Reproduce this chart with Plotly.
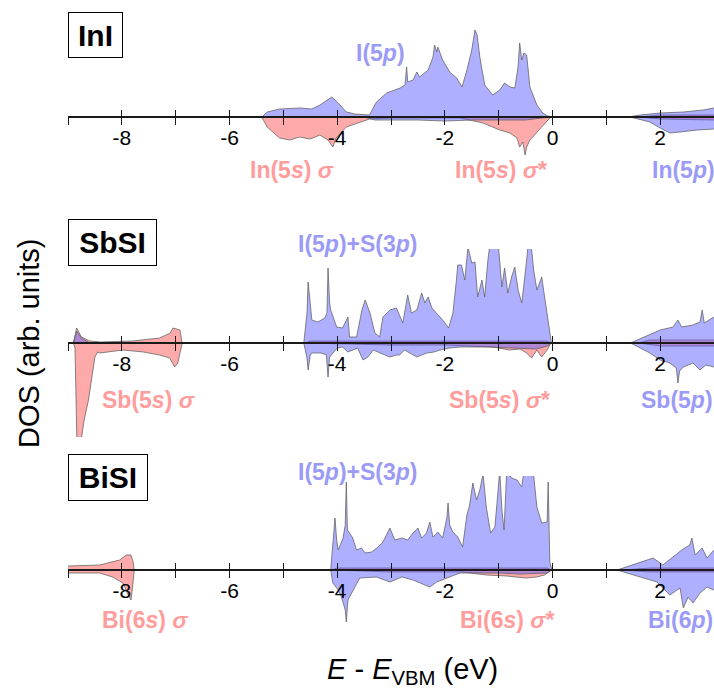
import plotly.graph_objects as go

# ---------------- data: energy (eV, relative to VBM) and DOS (arb. units) ----------------
TICK_VALUES = [-8, -6, -4, -2, 0, 2]
TICK_LABELS = ["-8", "-6", "-4", "-2", "0", "2"]
MINOR_TICK_VALUES = [-9, -7, -5, -3, -1, 1, 3]
E_RANGE = [-9, 3]

# ---- InI ----
INI_ANION_P_E = [-5.4, -5.3, -5.07, -4.69, -4.47, -4.32, -4.1, -3.98, -3.83, -3.67,
                 -3.4, -3.27, -3.08, -2.83, -2.74, -2.71, -2.69, -2.59, -2.52, -2.47,
                 -2.31, -2.22, -2.19, -2.15, -2.13, -2.04, -1.91, -1.78, -1.68, -1.59,
                 -1.5, -1.44, -1.4, -1.35, -1.26, -1.11, -0.98, -0.89, -0.79, -0.7,
                 -0.64, -0.61, -0.57, -0.53, -0.48, -0.42, -0.29, -0.18, -0.09, 0.0,
                 1.4, 1.63, 2.0, 2.43, 2.8, 3.0]
INI_ANION_P_DOS = [0, 5, 8, 9, 8, 12, 20, 14, 5, 3,
                   2, 15, 24, 29, 32, 50, 35, 37, 45, 40,
                   47, 60, 72, 65, 70, 57, 45, 39, 30, 47,
                   67, 87, 82, 60, 32, 22, 27, 34, 30, 29,
                   50, 74, 57, 64, 62, 30, 12, 4, 1, 0,
                   0, 2, 4, 5, 7, 9]
INI_CATION_S_E = [-5.4, -5.3, -5.07, -4.88, -4.7, -4.5, -4.32, -4.17, -4.08, -4.02,
                  -3.83, -3.58, -3.4, -3.0, -2.0, -1.72, -1.29, -0.98, -0.79, -0.66,
                  -0.61, -0.55, -0.51, -0.48, -0.42, -0.29, -0.18, -0.05, 0.0,
                  1.6, 2.0, 3.0]
INI_CATION_S_DOS = [0, -10, -21, -23, -20, -22, -18, -23, -30, -21,
                    -10, -5, -2, -1, -1, -1, -6, -13, -16, -21,
                    -30, -25, -38, -30, -23, -15, -8, -1, 0,
                    0, -2, -3]
INI_CATION_P_E = [-3.5, -3.3, -2.5, -2.0, -1.5, -1.0, -0.5, -0.2, 0.0,
                  1.44, 1.81, 2.0, 2.18, 2.37, 2.69, 3.0]
INI_CATION_P_DOS = [0, -3, -3, -4, -3, -3, -3, -1, 0,
                    0, -5, -11, -16, -15, -13, -12]
INI_ANION_S_E = [1.6, 2.0, 3.0]
INI_ANION_S_DOS = [0, 2, 2]

# ---- SbSI ----
SBSI_ANION_P_E = [-8.9, -8.84, -8.75, -8.6,
                  -4.62, -4.56, -4.54, -4.5, -4.47, -4.36, -4.23, -4.19, -4.17, -4.14,
                  -4.12, -4.01, -3.9, -3.8, -3.77, -3.64, -3.54, -3.48, -3.39, -3.3,
                  -3.21, -3.15, -3.02, -2.9, -2.84, -2.78, -2.69, -2.62, -2.52, -2.43,
                  -2.37, -2.31, -2.24, -2.15, -2.04, -1.93, -1.85, -1.79, -1.76, -1.69,
                  -1.63, -1.57, -1.5, -1.44, -1.39, -1.31, -1.26, -1.2, -1.16, -1.01,
                  -0.94, -0.89, -0.83, -0.76, -0.7, -0.64, -0.57, -0.48, -0.45, -0.4,
                  -0.35, -0.29, -0.2, -0.16, -0.08, -0.02,
                  1.45, 1.81, 2.0, 2.24, 2.33, 2.4, 2.61, 2.74, 2.78, 2.82, 3.0]
SBSI_ANION_P_DOS = [0, 12, 5, 0,
                    0, 30, 61, 35, 23, 21, 25, 30, 75, 40,
                    33, 16, 15, 26, 6, 6, 33, 43, 30, 10,
                    6, 26, 33, 35, 28, 20, 48, 30, 33, 50,
                    40, 46, 35, 30, 23, 15, 30, 60, 78, 78,
                    63, 96, 80, 81, 46, 63, 46, 83, 100, 100,
                    56, 75, 50, 66, 76, 53, 40, 83, 100, 100,
                    73, 53, 66, 51, 23, 0,
                    0, 8, 13, 16, 23, 16, 18, 21, 33, 20, 26]
SBSI_CATION_S_E = [-8.9, -8.87, -8.83, -8.8, -8.75, -8.7, -8.62, -8.56, -8.5, -8.45,
                   -8.41, -7.98, -7.6, -7.3, -7.11, -7.02, -6.96, -6.9, -6.88,
                   -4.6, -3.0, -2.0, -1.5, -1.11, -0.8, -0.6, -0.48, -0.39, -0.29,
                   -0.2, -0.1, -0.03,
                   1.6, 2.0, 2.5, 3.0]
SBSI_CATION_S_DOS = [0, -5, -110, -110, -95, -77, -57, -34, -14, -9,
                     -10, -7, -9, -12, -15, -24, -20, -5, 0,
                     0, -2, -2, -3, -4, -7, -6, -10, -15, -7,
                     -14, -7, 0,
                     0, -3, -3, -3]
SBSI_ANION_S_E = [-8.9, -8.84, -8.75, -8.6, -8.4, -7.8, -7.3, -7.1, -7.05, -6.98,
                  -6.92, -6.88, -4.6, -4.5, -0.1, -0.03, 1.6, 1.8, 3.0]
SBSI_ANION_S_DOS = [0, 15, 6, 2, 1, 2, 5, 10, 15, 14,
                    13, 0, 0, 2, 2, 0, 0, 3, 3]
SBSI_CATION_P_E = [-4.62, -4.56, -4.54, -4.5, -4.47, -4.3, -4.2, -4.17, -4.14, -4.0,
                   -3.9, -3.8, -3.62, -3.52, -3.43, -3.33, -3.2, -3.02, -2.9, -2.84,
                   -2.75, -2.65, -2.52, -2.43, -2.33, -2.2, -2.09, -1.91, -1.7, -1.2,
                   -0.55, -0.3, -0.1, -0.02,
                   1.45, 1.81, 2.0, 2.18, 2.3, 2.33, 2.36, 2.43, 2.61, 2.74, 2.85, 3.0]
SBSI_CATION_P_DOS = [0, -15, -27, -12, -10, -10, -12, -34, -14, -5,
                     -4, -9, -5, -17, -14, -7, -10, -14, -12, -12,
                     -7, -10, -14, -12, -10, -9, -7, -5, -4, -4,
                     -5, -6, -3, 0,
                     0, -10, -17, -20, -25, -40, -28, -24, -20, -27, -22, -24]

# ---- BiSI ----
BISI_ANION_P_E = [-4.12, -4.06, -4.04, -4.01, -3.98, -3.89, -3.85, -3.83, -3.81, -3.71,
                  -3.64, -3.55, -3.48, -3.36, -3.24, -3.15, -3.02, -2.93, -2.8, -2.69,
                  -2.59, -2.5, -2.43, -2.34, -2.28, -2.22, -2.13, -2.04, -1.96, -1.94,
                  -1.91, -1.85, -1.76, -1.67, -1.59, -1.54, -1.48, -1.41, -1.35, -1.29,
                  -1.23, -1.15, -1.07, -1.01, -0.98, -0.94, -0.9, -0.85, -0.76, -0.66,
                  -0.57, -0.53, -0.36, -0.29, -0.2, -0.1, -0.08, -0.05, -0.01,
                  1.2, 1.63, 1.87, 2.05, 2.27, 2.4, 2.55, 2.59, 2.65, 2.78, 2.87, 3.0]
BISI_ANION_P_DOS = [0, 40, 52, 30, 20, 32, 45, 88, 40, 32,
                    20, 22, 17, 18, 23, 28, 42, 30, 32, 30,
                    37, 42, 32, 37, 48, 33, 38, 32, 53, 67,
                    45, 38, 33, 23, 55, 65, 87, 70, 80, 96,
                    63, 37, 43, 80, 100, 60, 40, 100, 92, 90,
                    83, 100, 100, 63, 47, 48, 88, 8, 0,
                    0, 8, 12, 5, 15, 20, 25, 32, 15, 22, 12, 20]
BISI_CATION_S_E = [-9.3, -9.0, -8.41, -8.17, -7.98, -7.86, -7.83, -7.8, -7.77,
                   -4.1, -3.0, -2.0, -1.67, -1.23, -0.85, -0.5, -0.29, -0.15, -0.02,
                   1.3, 1.8, 3.0]
BISI_CATION_S_DOS = [-3, -3, -3, -7, -13, -27, -30, -17, 0,
                     0, -2, -2, -2, -5, -6, -8, -7, -5, 0,
                     0, -2, -2]
BISI_ANION_S_E = [-9.3, -9.0, -8.41, -8.04, -7.92, -7.83, -7.79, -7.77,
                  -4.1, -4.0, -0.1, -0.02, 1.3, 1.8, 3.0]
BISI_ANION_S_DOS = [4, 4, 5, 10, 15, 15, 8, 0,
                    0, 2, 2, 0, 0, 2, 2]
BISI_CATION_P_E = [-4.12, -4.08, -3.98, -3.92, -3.85, -3.83, -3.8, -3.73, -3.58, -3.27,
                   -3.02, -2.8, -2.59, -2.28, -2.15, -1.96, -1.72, -1.48, -0.98, -0.6,
                   -0.1, -0.01,
                   1.2, 1.63, 1.94, 2.18, 2.37, 2.43, 2.52, 2.61, 2.74, 2.87, 3.0]
BISI_CATION_P_DOS = [0, -13, -20, -27, -40, -52, -30, -23, -8, -7,
                     -12, -7, -10, -17, -12, -8, -3, -3, -3, -4,
                     -3, 0,
                     0, -7, -12, -25, -18, -38, -27, -33, -23, -17, -20]

PANEL_NAMES = ["InI", "SbSI", "BiSI"]
PANEL_SERIES = [
    [(INI_CATION_S_E, INI_CATION_S_DOS, "red"), (INI_ANION_S_E, INI_ANION_S_DOS, "red"),
     (INI_ANION_P_E, INI_ANION_P_DOS, "blue"), (INI_CATION_P_E, INI_CATION_P_DOS, "blue")],
    [(SBSI_CATION_S_E, SBSI_CATION_S_DOS, "red"), (SBSI_ANION_S_E, SBSI_ANION_S_DOS, "red"),
     (SBSI_ANION_P_E, SBSI_ANION_P_DOS, "blue"), (SBSI_CATION_P_E, SBSI_CATION_P_DOS, "blue")],
    [(BISI_CATION_S_E, BISI_CATION_S_DOS, "red"), (BISI_ANION_S_E, BISI_ANION_S_DOS, "red"),
     (BISI_ANION_P_E, BISI_ANION_P_DOS, "blue"), (BISI_CATION_P_E, BISI_CATION_P_DOS, "blue")],
]
PANEL_LABELS = [
    ["I(5<i>p</i>)", "In(5<i>s</i>) <i>σ</i>", "In(5<i>s</i>) <i>σ</i>*", "In(5<i>p</i>)"],
    ["I(5<i>p</i>)+S(3<i>p</i>)", "Sb(5<i>s</i>) <i>σ</i>", "Sb(5<i>s</i>) <i>σ</i>*", "Sb(5<i>p</i>)"],
    ["I(5<i>p</i>)+S(3<i>p</i>)", "Bi(6<i>s</i>) <i>σ</i>", "Bi(6<i>s</i>) <i>σ</i>*", "Bi(6<i>p</i>)"],
]

# ---------------- styling / layout ----------------
W, H = 714, 689
ML, MR, MT, MB = 68, 0, 23, 25
PLOT_W = W - ML - MR
PLOT_H = H - MT - MB
PANEL_PX = [(23, 211), (249, 437), (476, 664)]       # top/bottom pixel of each panel
Y_HALF = 94
FONT = "Liberation Sans, Arial, Helvetica, sans-serif"
FILL = {"blue": "rgba(95,95,255,0.5)", "red": "rgba(255,85,85,0.5)"}
EDGE = "rgba(95,95,95,0.75)"
AXC = "#1a1a1a"
BLUE_TXT = "#9b9bf7"
RED_TXT = "#ff9c9c"


def py(px):
    return (H - MB - px) / PLOT_H


def px_x(px):
    return (px - ML) / PLOT_W


fig = go.Figure()
layout = dict(
    width=W, height=H, margin=dict(l=ML, r=MR, t=MT, b=MB),
    paper_bgcolor="white", plot_bgcolor="rgba(0,0,0,0)",
    showlegend=False, font=dict(family=FONT, color="black"),
)

for i, series in enumerate(PANEL_SERIES):
    n = i + 1
    xa = "x" if n == 1 else f"x{n}"
    ya = "y" if n == 1 else f"y{n}"
    top, bot = PANEL_PX[i]
    dom = [py(bot), py(top)]
    zero = (dom[0] + dom[1]) / 2
    for e, d, col in series:
        fig.add_trace(go.Scatter(
            x=e, y=d, xaxis=xa, yaxis=ya, mode="lines", fill="tozeroy",
            fillcolor=FILL[col], line=dict(color=EDGE, width=1),
            hoverinfo="skip"))
    ov = f"x{n + 3}"
    fig.add_trace(go.Scatter(x=[], y=[], xaxis=ov, yaxis=ya, hoverinfo="skip"))

    layout[f"yaxis{'' if n == 1 else n}"] = dict(
        domain=dom, range=[-Y_HALF, Y_HALF], visible=False, fixedrange=True)
    layout[f"xaxis{'' if n == 1 else n}"] = dict(
        domain=[0, 1], range=E_RANGE, anchor="free", position=zero,
        showline=True, linecolor=AXC, linewidth=1.5, ticks="outside", ticklen=7,
        tickwidth=1.3, tickcolor=AXC, tickmode="array", tickvals=TICK_VALUES,
        ticktext=TICK_LABELS, ticklabelstandoff=-5,
        minor=dict(tickmode="array", tickvals=MINOR_TICK_VALUES, ticks="outside",
                   ticklen=7, tickwidth=1.3, tickcolor=AXC, showgrid=False),
        tickfont=dict(size=21, family=FONT, color="black"), showgrid=False, zeroline=False)
    layout[f"xaxis{n + 3}"] = dict(
        overlaying=xa, domain=[0, 1], range=E_RANGE, anchor="free",
        position=zero, showline=False, ticks="inside", ticklen=7, tickwidth=1.3,
        tickcolor=AXC, tickmode="array", tickvals=TICK_VALUES, showticklabels=False,
        minor=dict(tickmode="array", tickvals=MINOR_TICK_VALUES, ticks="inside",
                   ticklen=7, tickwidth=1.3, tickcolor=AXC, showgrid=False),
        showgrid=False, zeroline=False)

fig.update_layout(**layout)

# panel name boxes
BOXES = [(12, 53, 44), (219, 87, 45), (454, 78, 45)]
for name, (top, bw, bh) in zip(PANEL_NAMES, BOXES):
    fig.add_annotation(xref="paper", yref="paper", x=0, y=py(top), xanchor="left", yanchor="top",
                       text=f"<b>{name}</b>", showarrow=False, width=bw, height=bh,
                       bordercolor="black", borderwidth=1, borderpad=0, bgcolor="white",
                       font=dict(size=30, family=FONT, color="black"))

# orbital labels: (x px, y px) centres
LABEL_POS = [
    [(380, 53), (292, 170), (501, 170), (683, 170)],
    [(358, 244), (148, 400), (500, 400), (677, 400)],
    [(358, 472), (145, 620), (507, 620), (680, 620)],
]
LABEL_COL = [BLUE_TXT, RED_TXT, RED_TXT, BLUE_TXT]
for labels, poss in zip(PANEL_LABELS, LABEL_POS):
    for txt, (lx, ly), col in zip(labels, poss, LABEL_COL):
        fig.add_annotation(xref="paper", yref="paper", x=px_x(lx), y=py(ly),
                           xanchor="center", yanchor="middle", text=f"<b>{txt}</b>",
                           showarrow=False, font=dict(size=23, family=FONT, color=col))

# axis titles
fig.add_annotation(xref="paper", yref="paper", x=px_x(29), y=py(343), textangle=-90,
                   xanchor="center", yanchor="middle",
                   text="DOS (arb. units)", showarrow=False,
                   font=dict(size=29, family=FONT, color="black"))
fig.add_annotation(xref="paper", yref="paper", x=px_x(412), y=py(671),
                   xanchor="center", yanchor="middle",
                   text="<i>E</i> - <i>E</i><sub>VBM</sub> (eV)", showarrow=False,
                   font=dict(size=29, family=FONT, color="black"))

# remove the browser's default page margin so the figure fills the window exactly
fig.write_html("out.html", config={"displayModeBar": False},
               post_script="document.body.style.margin='0';")
